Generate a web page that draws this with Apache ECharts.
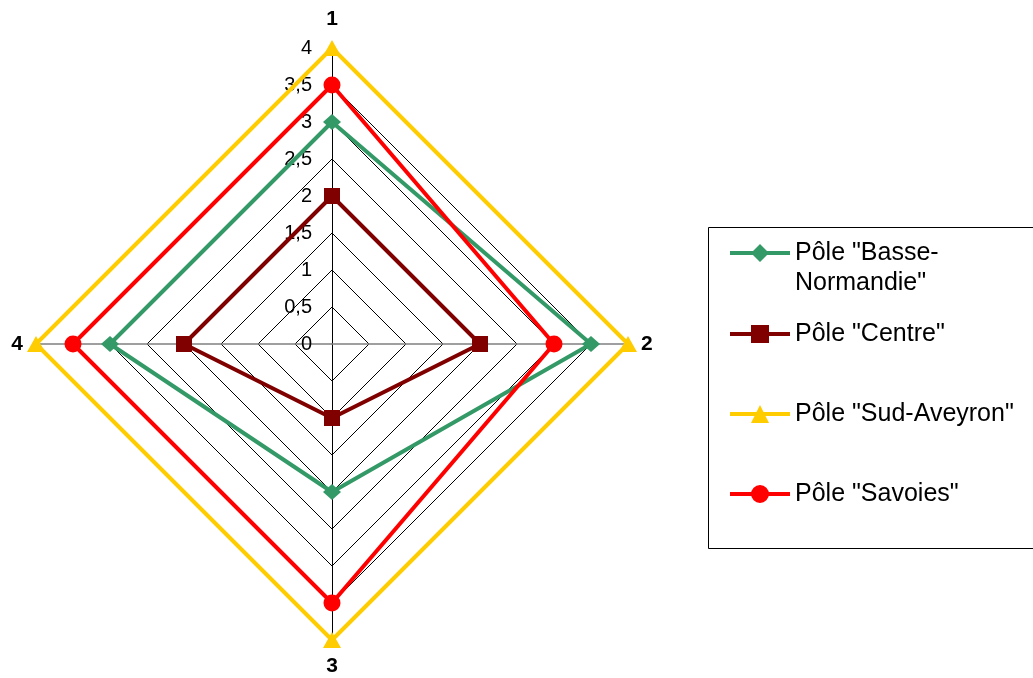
<!DOCTYPE html>
<html>
<head>
<meta charset="utf-8">
<script src="https://cdn.jsdelivr.net/npm/echarts@6/dist/echarts.min.js"></script>
<style>
  html, body { margin: 0; padding: 0; background: #fff; }
  #chart { width: 1033px; height: 678px; }
</style>
</head>
<body>
<div id="chart"></div>
<script>
// axes (clockwise from top) and values
const categories = ["1", "2", "3", "4"];
const basseNormandie = [3, 3.5, 2, 3];
const centre = [2, 2, 1, 2];
const sudAveyron = [4, 4, 4, 4];
const savoies = [3.5, 3, 3.5, 3.5];
const seriesNames = ['Pôle "Basse-\nNormandie"', 'Pôle "Centre"', 'Pôle "Sud-Aveyron"', 'Pôle "Savoies"'];
const axisMax = 4;

// echarts lays indicators out counter-clockwise, so feed them 1,4,3,2
const order = [0, 3, 2, 1];
const pick = (arr) => order.map((i) => arr[i]);

const font = "Liberation Sans";
const nameGaps = [18, 13, 16, 13];
const axisColors = ["#000", "#808080", "#000", "#808080"];

const labelStyle = {
  color: "#000",
  fontFamily: font,
  fontSize: 20,
  margin: 20,
  showMinLabel: true,
  showMaxLabel: true,
  formatter: (v) => String(v).replace(".", ","),
};
const nameStyle = { color: "#000", fontFamily: font, fontSize: 21, fontWeight: "bold" };

const indicator = order.map((i, k) => ({
  name: categories[i],
  max: axisMax,
  min: 0,
  nameGap: nameGaps[i],
  nameTextStyle: nameStyle,
  axisLine: { lineStyle: { color: axisColors[i], width: i % 2 ? 1.5 : 1 } },
  axisLabel: Object.assign({}, labelStyle, { show: k === 0 }),
}));

const styles = [
  { color: "#339966", symbol: "diamond", size: [18, 16], icon: "path://M0 7L60 7L60 11L0 11Z M21 9L30 0L39 9L30 18Z" },
  { color: "#800000", symbol: "rect", size: 16, icon: "path://M0 7L60 7L60 11L0 11Z M21 0L39 0L39 18L21 18Z" },
  { color: "#FFCC00", symbol: "triangle", size: [18, 16], icon: "path://M0 7L60 7L60 11L0 11Z M30 0L39 18L21 18Z" },
  { color: "#FF0000", symbol: "circle", size: 17, icon: "path://M0 7L60 7L60 11L0 11Z M21 9A9 9 0 1 1 39 9A9 9 0 1 1 21 9Z" },
];
const allValues = [basseNormandie, centre, sudAveyron, savoies];

const legendTops = [208, 319, 399, 479];

const myChart = echarts.init(document.getElementById("chart"));
const option = {
  animation: false,
  radar: {
    center: [332, 344],
    radius: 296,
    shape: "polygon",
    splitNumber: 8,
    indicator: indicator,
    axisName: nameStyle,
    axisLabel: Object.assign({}, labelStyle, { show: false }),
    axisTick: { show: false },
    splitLine: { lineStyle: { color: "#000", width: 1 } },
    splitArea: { show: false },
  },
  legend: seriesNames.map((name, i) => ({
    left: 730,
    top: legendTops[i],
    padding: 0,
    orient: "vertical",
    itemWidth: 60,
    itemHeight: 18,
    itemGap: 5,
    selectedMode: false,
    itemStyle: { borderWidth: 0 },
    data: [{ name: name, icon: styles[i].icon }],
    // a blank first line keeps the icon level with the first line of a two-line name
    formatter: (n) => (n.indexOf("\n") >= 0 ? "\n" + n : n),
    textStyle: {
      color: "#000",
      fontFamily: font,
      fontSize: 25,
      lineHeight: 30,
    },
  })),
  graphic: [
    {
      type: "rect",
      shape: { x: 708.5, y: 227.5, width: 340, height: 321 },
      style: { fill: "none", stroke: "#000", lineWidth: 1 },
      silent: true,
    },
  ],
  series: seriesNames.map((name, i) => ({
    type: "radar",
    name: name,
    symbol: styles[i].symbol,
    symbolSize: styles[i].size,
    lineStyle: { color: styles[i].color, width: 4 },
    itemStyle: { color: styles[i].color },
    data: [{ name: name, value: pick(allValues[i]) }],
  })),
};
myChart.setOption(option);
</script>
</body>
</html>
